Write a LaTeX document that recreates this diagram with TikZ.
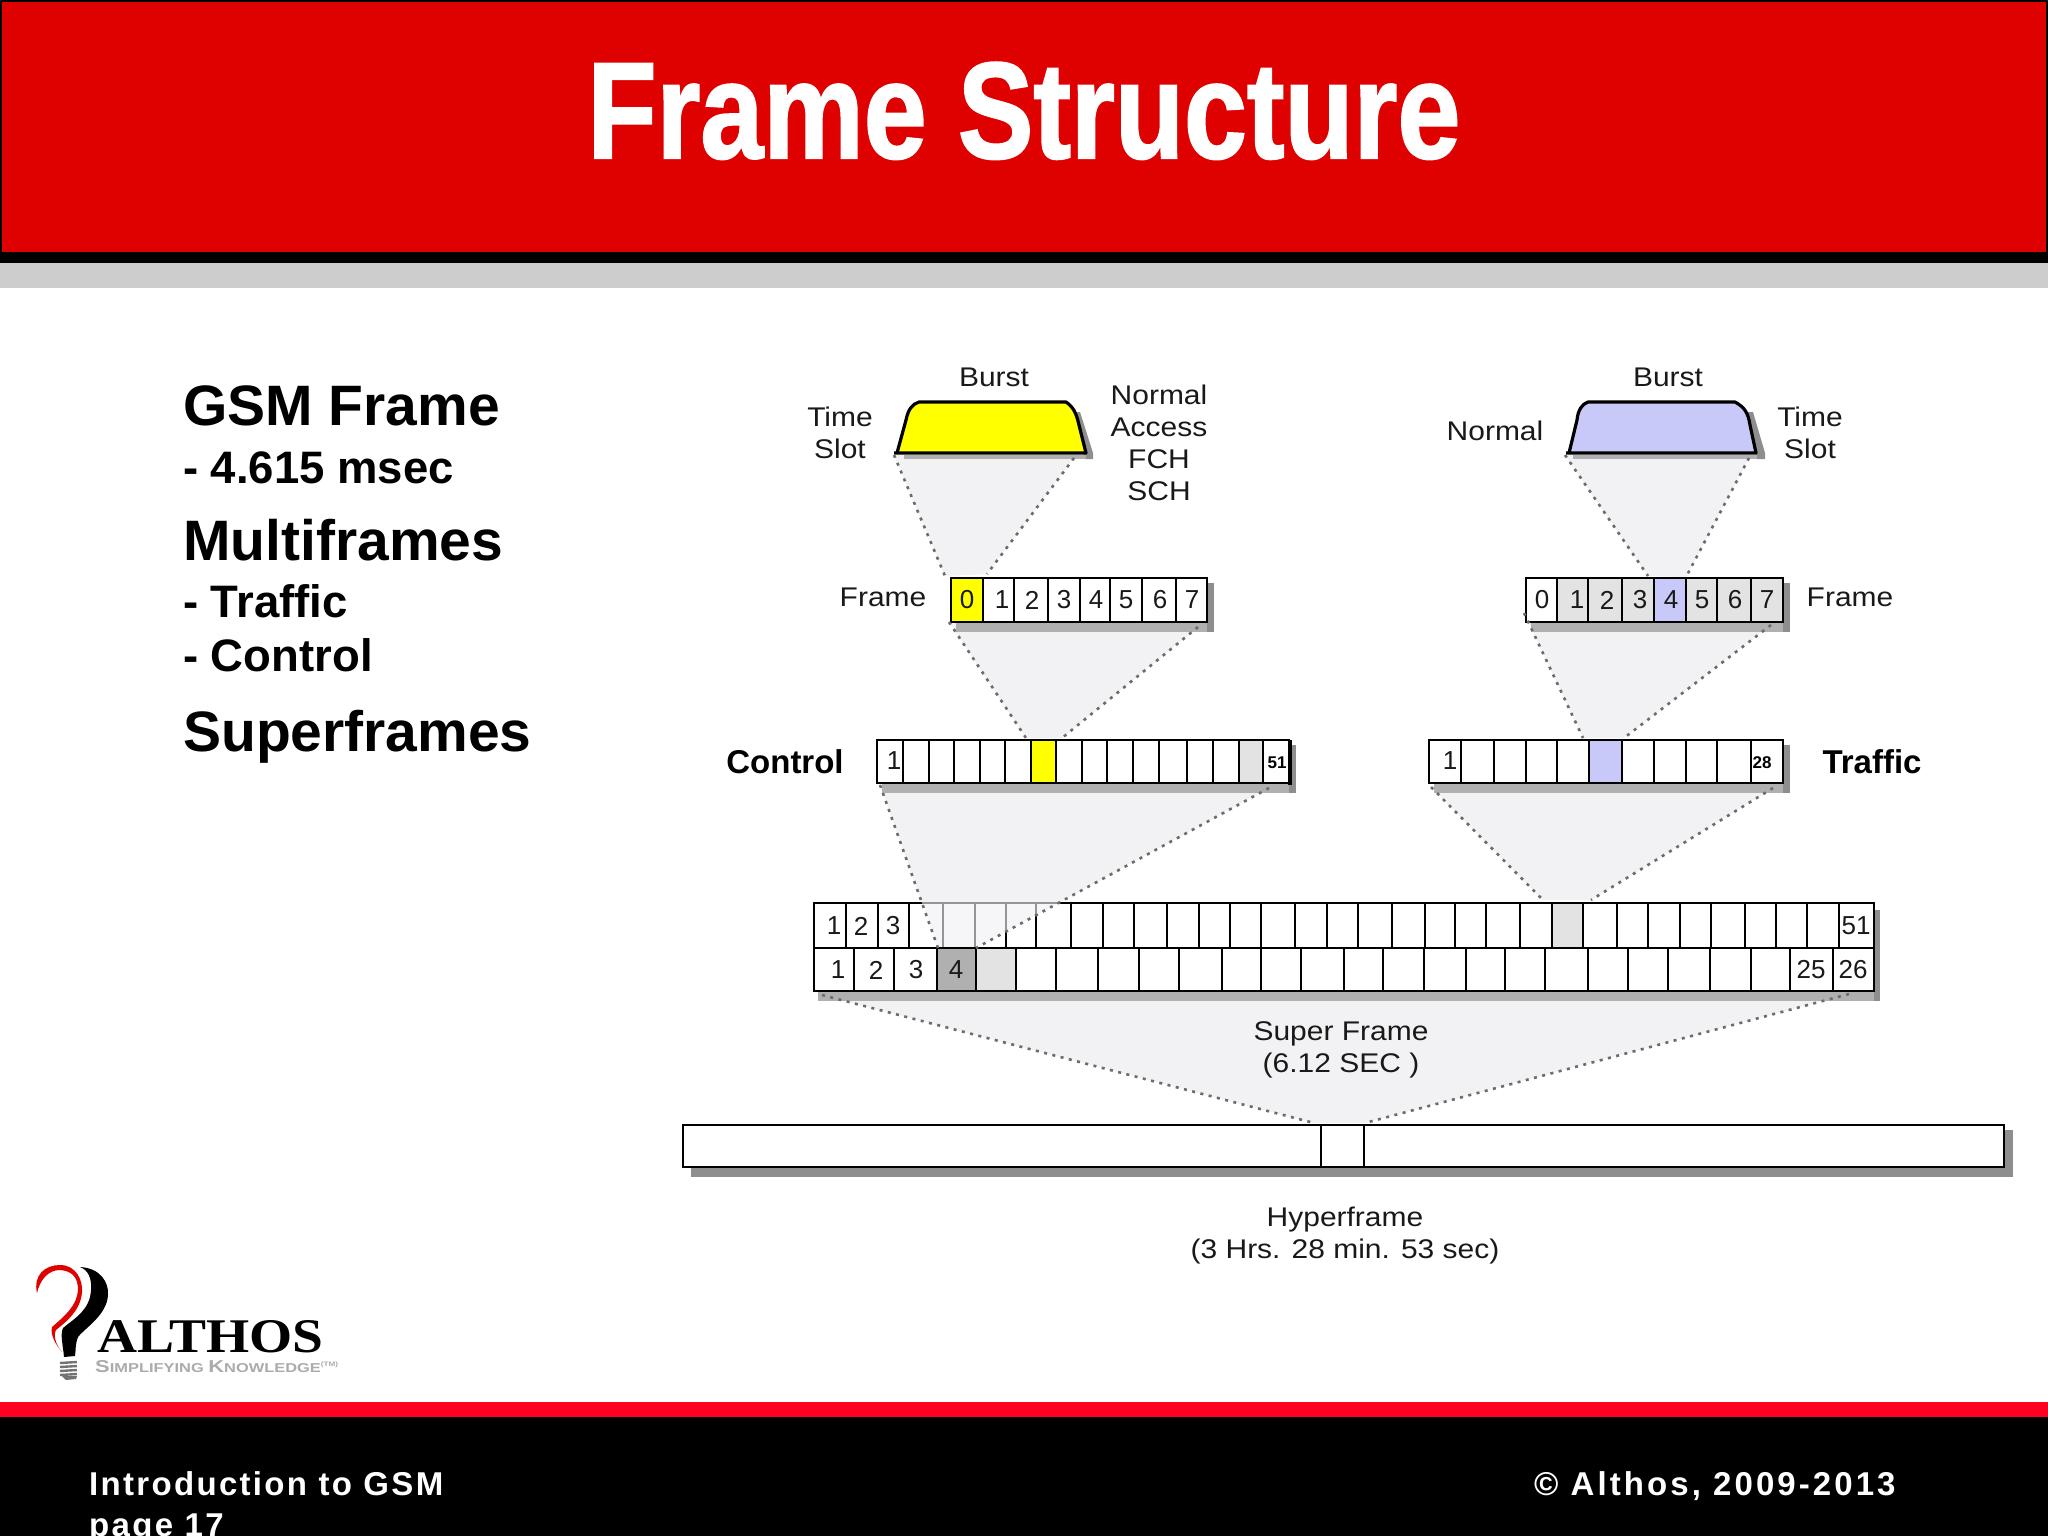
\documentclass[tikz,border=0pt]{standalone}
\usepackage{fontspec}
\usepackage{graphicx}
\setmainfont{Liberation Sans}
\newfontfamily\serifbold[BoldFont={Liberation Serif Bold}]{Liberation Serif}
\newfontfamily\footfont[LetterSpace=7.0]{Liberation Sans Bold}
\newfontfamily\footfontb[LetterSpace=9.3]{Liberation Sans Bold}
\newfontfamily\titlefont[FakeBold=1.6]{Liberation Sans Bold}
\newfontfamily\lblfont[FakeStretch=1.11]{Liberation Sans}
\definecolor{hdred}{HTML}{DF0000}
\definecolor{ftred}{HTML}{FF0022}
\definecolor{hdgray}{HTML}{CDCDCD}
\definecolor{burstyellow}{HTML}{FFFF00}
\definecolor{burstblue}{HTML}{C9C9F9}
\definecolor{cellgray}{HTML}{E3E3E3}
\definecolor{darkcell}{HTML}{B0B0B0}
\definecolor{shadowbot}{HTML}{B0B0B0}
\definecolor{shadowrt}{HTML}{8E8E8E}
\definecolor{funnelfill}{HTML}{F2F2F4}
\definecolor{dotgray}{HTML}{6C6C6C}
\tikzset{
  x=1pt,y=-1pt,
  lbl/.style={font=\fontsize{27}{32}\selectfont\lblfont,inner sep=0pt,align=center,text=black!90},
  num/.style={font=\fontsize{26}{26}\selectfont,inner sep=0pt,text=black!90},
  tiny num/.style={font=\fontsize{17}{17}\selectfont\bfseries,inner sep=0pt},
  bold lbl/.style={font=\fontsize{33}{33}\selectfont\bfseries,inner sep=0pt},
  head/.style={font=\fontsize{57}{57}\selectfont\bfseries,inner sep=0pt,anchor=base west},
  sub/.style={font=\fontsize{45.5}{46}\selectfont\bfseries,inner sep=0pt,anchor=base west},
  foot/.style={font=\fontsize{33}{33}\selectfont\footfont,text=white,inner sep=0pt,anchor=base west},
  footb/.style={font=\fontsize{33}{33}\selectfont\footfontb,text=white,inner sep=0pt,anchor=base west},
  cellline/.style={draw=black,line width=2.9pt},
  funnel/.style={fill=funnelfill,draw=none},
  dots/.style={draw=dotgray,line width=2.6pt,dash pattern=on 3pt off 5.5pt},
}
% bar: x0,y0,x1,y1, list of dividers
\newcommand{\barshadow}[4]{%
  \fill[shadowbot] (#1+5,#4) rectangle (#3+7,#4+10);
  \fill[shadowrt] (#3,#2+5) rectangle (#3+7,#4+10);
}
\newcommand{\barcells}[5]{%
  \draw[cellline] (#1,#2) rectangle (#3,#4);
  \foreach \d in {#5} {\draw[cellline] (\d,#2) -- (\d,#4);}
}
\begin{document}
\begin{tikzpicture}
\useasboundingbox (0,0) rectangle (2048,1536);
\begin{scope}
\clip (0,0) rectangle (2048,1536);
\fill[white] (0,0) rectangle (2048,1536);
% header
\fill[hdred] (0,0) rectangle (2048,252);
\fill[black] (0,0) rectangle (2048,2);
\fill[black] (0,0) rectangle (2,252);
\fill[black] (2046,0) rectangle (2048,252);
\fill[black] (0,252) rectangle (2048,263);
\fill[hdgray] (0,263) rectangle (2048,288);
\node[inner sep=0pt,anchor=base,text=white,font=\fontsize{137}{137}\selectfont\titlefont] (title) at (1024,158) {\scalebox{0.825}[1]{Frame Structure}};
% footer
\fill[ftred] (0,1402) rectangle (2048,1417);
\fill[black] (0,1417) rectangle (2048,1536);
\node[foot] (ft1) at (89,1495) {Introduction to GSM};
\node[foot] (ft2) at (89,1536) {page 17};
\node[footb] (ft3) at (1534,1495) {© Althos, 2009-2013};
% left text
\node[head] (h1) at (183,425) {GSM Frame};
\node[sub]  (s1) at (183,483) {- 4.615 msec};
\node[head] (h2) at (183,560) {Multiframes};
\node[sub]  (s2) at (183,617) {- Traffic};
\node[sub]  (s3) at (183,671) {- Control};
\node[head] (h3) at (183,751) {Superframes};
% named funnel vertices
\coordinate (a1) at (894,455); \coordinate (a2) at (1074,458); \coordinate (a3) at (987,574); \coordinate (a4) at (945,576);
\coordinate (b1) at (949,622); \coordinate (b2) at (1198,627); \coordinate (b3) at (1062,738); \coordinate (b4) at (1026,738);
\coordinate (c1) at (880,785); \coordinate (c2) at (1269,788); \coordinate (c3) at (976,948); \coordinate (c4) at (938,948);
\coordinate (d1) at (1565,455); \coordinate (d2) at (1749,458); \coordinate (d3) at (1686,577); \coordinate (d4) at (1648,576);
\coordinate (e1) at (1524,613); \coordinate (e2) at (1771,625); \coordinate (e3) at (1624,738); \coordinate (e4) at (1583,738);
\coordinate (f1) at (1431,787); \coordinate (f2) at (1773,788); \coordinate (f3) at (1591,900); \coordinate (f4) at (1543,900);
\coordinate (g1) at (822,995); \coordinate (g2) at (1849,994); \coordinate (g3) at (1365,1123); \coordinate (g4) at (1314,1123);
% funnel fills
\foreach \p in {a,b,c,d,e,f,g} {\fill[funnel] (\p1) -- (\p2) -- (\p3) -- (\p4) -- cycle;}
% left burst
\fill[shadowrt] (1071,412) -- (1080,412) -- (1093,453) -- (1093,459) -- (1085,459) -- cycle;
\fill[shadowbot] (904,455) rectangle (1086,459);
\draw[fill=burstyellow,line width=3.2pt,line join=round] (894,453) -- (1086,453) -- (1079,425) .. controls (1076,412) and (1073,407) .. (1066,402) -- (919,402) .. controls (912,404) and (908,410) .. (906,420) -- (897,453);
% right burst
\fill[shadowrt] (1745,412) -- (1753,412) -- (1765,453) -- (1765,459) -- (1757,459) -- cycle;
\fill[shadowbot] (1573,455) rectangle (1757,459);
\draw[fill=burstblue,line width=3.2pt,line join=round] (1566,453) -- (1756,453) -- (1750,425) .. controls (1748,412) and (1744,407) .. (1735,402) -- (1588,402) .. controls (1582,404) and (1578,410) .. (1577,420) -- (1569,453);
% left frame
\barshadow{951}{578}{1207}{622}
\fill[white] (951,578) rectangle (1207,622);
\fill[burstyellow] (951,578) rectangle (983,622);
\barcells{951}{578}{1207}{622}{983,1014,1048,1080,1110,1142,1176}
\foreach \x/\t [count=\i] in {967/0,1002/1,1032/2,1064/3,1096/4,1126/5,1160/6,1192/7} {\node[num] (lf\i) at (\x,600) {\t};}
% control bar
\barshadow{877}{740}{1289}{783}
\fill[white] (877,740) rectangle (1289,783);
\fill[burstyellow] (1031,740) rectangle (1056,783);
\fill[cellgray] (1239,740) rectangle (1263,783);
\barcells{877}{740}{1289}{783}{903,929,954,980,1005,1031,1056,1082,1107,1133,1159,1187,1213,1239,1263}
\draw[black,line width=3.5pt] (1290,740) -- (1290,785);
\node[num] (c1n) at (894,761) {1};
\node[tiny num] (c51) at (1277,763) {51};
% right frame
\barshadow{1526}{578}{1783}{622}
\fill[cellgray] (1526,578) rectangle (1783,622);
\fill[white] (1526,578) rectangle (1557,622);
\fill[burstblue] (1654,578) rectangle (1686,622);
\barcells{1526}{578}{1783}{622}{1557,1588,1622,1654,1686,1717,1751}
\foreach \x/\t [count=\i] in {1542/0,1577/1,1607/2,1640/3,1671/4,1702/5,1735/6,1767/7} {\node[num] (rf\i) at (\x,600) {\t};}
% traffic bar
\barshadow{1429}{740}{1783}{783}
\fill[white] (1429,740) rectangle (1783,783);
\fill[burstblue] (1589,740) rectangle (1622,783);
\barcells{1429}{740}{1783}{783}{1461,1494,1526,1557,1589,1622,1654,1686,1717,1751}
\node[num] (t1n) at (1450,761) {1};
\node[tiny num] (t28) at (1762,763) {28};
% super frame rows
\fill[shadowbot] (818,991) rectangle (1880,1001);
\fill[shadowrt] (1874,910) rectangle (1880,1001);
\fill[white] (814,903) rectangle (1874,991);
\fill[cellgray] (1552,903) rectangle (1583,948);
\fill[darkcell] (937,948) rectangle (976,991);
\fill[cellgray] (976,948) rectangle (1016,991);
\barcells{814}{903}{1874}{948}{846,878,909,943,975,1006,1036,1071,1103,1134,1167,1199,1230,1261,1295,1327,1358,1392,1425,1455,1486,1520,1552,1583,1617,1648,1680,1711,1745,1776,1807,1839}
\barcells{814}{948}{1874}{991}{854,894,937,976,1016,1056,1098,1139,1179,1222,1261,1301,1344,1383,1424,1466,1505,1545,1588,1628,1668,1710,1751,1790,1833}
\foreach \x/\t [count=\i] in {834/1,861/2,893/3,1856/51} {\node[num] (st\i) at (\x,926) {\t};}
\foreach \x/\t [count=\i] in {838/1,876/2,916/3,956/4,1811/25,1853/26} {\node[num] (sb\i) at (\x,970) {\t};}
% translucent part of the funnel over the top row
\begin{scope}
\clip (800,901) rectangle (1100,946);
\fill[funnelfill,fill opacity=.62] (c1) -- (c2) -- (c3) -- (c4) -- cycle;
\end{scope}
% hyperframe
\fill[shadowrt] (691,1167) rectangle (2013,1177);
\fill[shadowrt] (2004,1130) rectangle (2013,1177);
\fill[white] (683,1125) rectangle (2004,1167);
\barcells{683}{1125}{2004}{1167}{1321,1364}
% dotted connectors
\foreach \p in {a,b,c,d,e,f,g} {\draw[dots] (\p1) -- (\p4); \draw[dots] (\p2) -- (\p3);}
% labels
\node[lbl] (burst1) at (994,377) {Burst};
\node[lbl] (ts1) at (840,433) {Time\\Slot};
\node[lbl] (na) at (1159,443) {Normal\\Access\\FCH\\SCH};
\node[lbl] (fr1) at (883,597) {Frame};
\node[bold lbl] (ctl) at (785,762) {Control};
\node[lbl] (burst2) at (1668,377) {Burst};
\node[lbl] (nm) at (1495,431) {Normal};
\node[lbl] (ts2) at (1810,433) {Time\\Slot};
\node[lbl] (fr2) at (1850,597) {Frame};
\node[bold lbl] (trf) at (1872,762) {Traffic};
\node[lbl] (sf) at (1341,1050) {Super Frame\\(6.12 SEC )};
\node[lbl] (hf) at (1345,1236) {Hyperframe\\(3 Hrs. 28 min. 53 sec)};
% logo
\fill[hdred] (37,1293) .. controls (33,1275) and (45,1265) .. (60,1265) .. controls (76,1265) and (83,1280) .. (82,1292) .. controls (81,1310) and (66,1322) .. (56,1330) .. controls (53,1336) and (56,1345) .. (62,1352) .. controls (56,1345) and (50,1335) .. (52,1327) .. controls (66,1315) and (77,1305) .. (78,1290) .. controls (78,1277) and (72,1271) .. (60,1270) .. controls (48,1270) and (40,1280) .. (37,1293) -- cycle;
\fill[black] (80,1267) .. controls (100,1268) and (109,1282) .. (108,1295) .. controls (107,1315) and (85,1328) .. (78,1337) .. controls (75,1345) and (76,1350) .. (75,1356) -- (64,1357) .. controls (63,1345) and (60,1335) .. (63,1328) .. controls (75,1318) and (90,1310) .. (91,1290) .. controls (92,1278) and (88,1270) .. (80,1267) -- cycle;
\foreach \y in {1363,1367,1371,1375} {\draw[black!55,line width=2.4pt] (60,\y) -- (77,\y-1);}
\fill[black!55] (62,1376) -- (77,1376) -- (76,1379) -- (66,1380) -- cycle;
\node[inner sep=0pt,anchor=base west,font=\fontsize{46}{46}\selectfont\serifbold\bfseries] (althos) at (97,1352) {\resizebox{226pt}{32pt}{ALTHOS}};
\node[inner sep=0pt,anchor=base west,text=black!33] (simp) at (95,1372) {\resizebox{243pt}{12pt}{\bfseries\fontsize{16}{16}\selectfont S\fontsize{12}{12}\selectfont IMPLIFYING \fontsize{16}{16}\selectfont K\fontsize{12}{12}\selectfont NOWLEDGE\raisebox{5pt}{\fontsize{6}{6}\selectfont (TM)}}};
\end{scope}
\end{tikzpicture}
\end{document}
